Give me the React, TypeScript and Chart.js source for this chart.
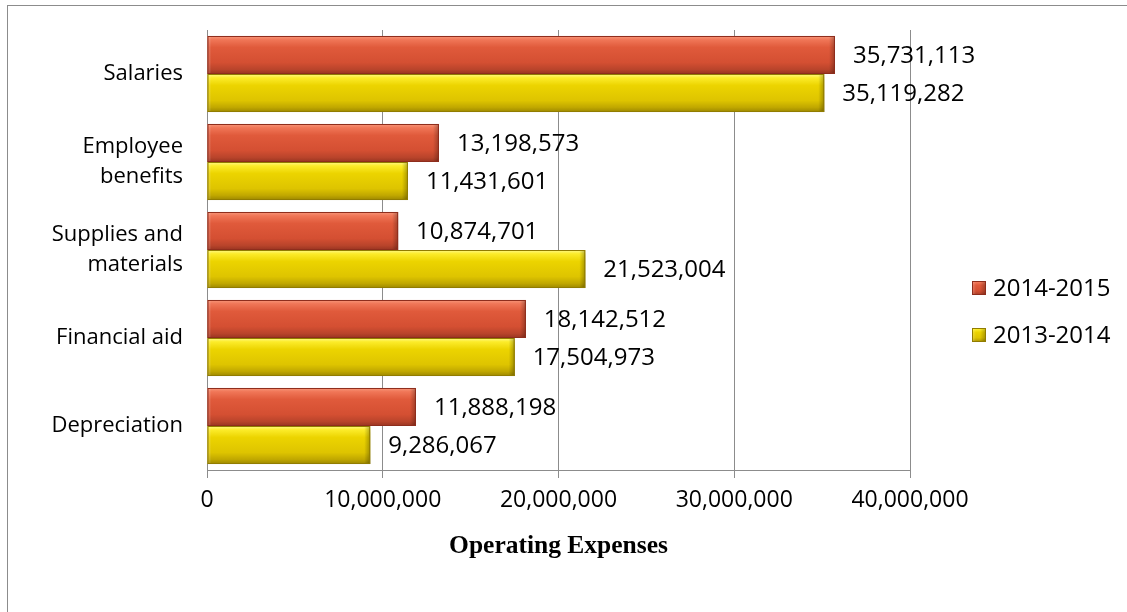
import React, { useEffect, useRef } from 'react';
import { Chart, registerables } from 'chart.js';

Chart.register(...registerables);

const categories: (string | string[])[] = [
  'Salaries',
  ['Employee', 'benefits'],
  ['Supplies and', 'materials'],
  'Financial aid',
  'Depreciation',
];
const seriesLabels = ['2014-2015', '2013-2014'];
const values2014_2015 = [35731113, 13198573, 10874701, 18142512, 11888198];
const values2013_2014 = [35119282, 11431601, 21523004, 17504973, 9286067];
const xMin = 0;
const xMax = 40000000;
const xStep = 10000000;
const axisTitle = 'Operating Expenses';

const SANS = '"Open Sans", "Noto Sans", sans-serif';
const SERIF = '"Liberation Serif", "DejaVu Serif", serif';

const palettes = [
  {
    base: '#dc5436',
    border: '#8e2d1c',
    stops: [
      [0, '#f8987b'],
      [0.1, '#f07657'],
      [0.3, '#e05a3b'],
      [0.7, '#d44f32'],
      [0.88, '#b9442b'],
      [1, '#983421'],
    ],
  },
  {
    base: '#e6cb00',
    border: '#917c00',
    stops: [
      [0, '#fff98c'],
      [0.1, '#fcec2a'],
      [0.3, '#ecd400'],
      [0.7, '#dec400'],
      [0.88, '#c0a700'],
      [1, '#9c8700'],
    ],
  },
];

const fmt = (v: number) => v.toLocaleString('en-US');

function paintBevel(ctx: CanvasRenderingContext2D, left: number, top: number, w: number, h: number, p: any) {
  const g = ctx.createLinearGradient(0, top, 0, top + h);
  p.stops.forEach(([o, c]: any) => g.addColorStop(o, c));
  ctx.fillStyle = g;
  ctx.fillRect(left, top, w, h);
  const bw = Math.min(6, w / 2);
  const gr = ctx.createLinearGradient(left + w - bw, 0, left + w, 0);
  gr.addColorStop(0, 'rgba(0,0,0,0)');
  gr.addColorStop(1, 'rgba(0,0,0,0.28)');
  ctx.fillStyle = gr;
  ctx.fillRect(left + w - bw, top, bw, h);
  const gl = ctx.createLinearGradient(left, 0, left + 4, 0);
  gl.addColorStop(0, 'rgba(255,255,255,0.25)');
  gl.addColorStop(1, 'rgba(255,255,255,0)');
  ctx.fillStyle = gl;
  ctx.fillRect(left, top, Math.min(4, w), h);
  ctx.strokeStyle = p.border;
  ctx.lineWidth = 1;
  ctx.strokeRect(left + 0.5, top + 0.5, w - 1, h - 1);
}

const barStylePlugin = {
  id: 'barStyle',
  beforeDatasetDraw(chart: any) {
    const ctx = chart.ctx;
    ctx.save();
    ctx.shadowColor = 'rgba(0,0,0,0.32)';
    ctx.shadowBlur = 3;
    ctx.shadowOffsetX = 3;
    ctx.shadowOffsetY = 4;
  },
  afterDatasetDraw(chart: any) {
    chart.ctx.restore();
  },
  afterDatasetsDraw(chart: any) {
    const ctx = chart.ctx;
    chart.data.datasets.forEach((ds: any, di: number) => {
      const meta = chart.getDatasetMeta(di);
      const p = palettes[di];
      meta.data.forEach((bar: any) => {
        const { x, y, base, height } = bar.getProps(['x', 'y', 'base', 'height'], true);
        const left = Math.min(x, base);
        const right = Math.max(x, base);
        const top = y - height / 2;
        ctx.save();
        paintBevel(ctx, left, top, right - left, height, p);
        ctx.restore();
      });
    });
    ctx.save();
    ctx.font = `24px ${SANS}`;
    ctx.fillStyle = '#000';
    ctx.textAlign = 'left';
    ctx.textBaseline = 'middle';
    chart.data.datasets.forEach((ds: any, di: number) => {
      const meta = chart.getDatasetMeta(di);
      meta.data.forEach((bar: any, i: number) => {
        const { x, y } = bar.getProps(['x', 'y'], true);
        ctx.fillText(fmt(ds.data[i]), x + 18, y + 1);
      });
    });
    ctx.restore();
  },
};

const legendPlugin = {
  id: 'sideLegend',
  afterDraw(chart: any) {
    const ctx = chart.ctx;
    const boxX = 964;
    const textX = 985;
    const rows = [282, 329];
    ctx.save();
    ctx.font = `24px ${SANS}`;
    ctx.textAlign = 'left';
    ctx.textBaseline = 'middle';
    chart.data.datasets.forEach((ds: any, di: number) => {
      const cy = rows[di];
      ctx.save();
      paintBevel(ctx, boxX, cy - 7, 14, 14, palettes[di]);
      ctx.restore();
      ctx.fillStyle = '#000';
      ctx.fillText(ds.label, textX, cy + 1);
    });
    ctx.restore();
  },
};

export default function App() {
  const canvasRef = useRef<HTMLCanvasElement | null>(null);

  useEffect(() => {
    if (!canvasRef.current) return;
    const chart = new Chart(canvasRef.current, {
      type: 'bar',
      data: {
        labels: categories as any,
        datasets: [
          {
            label: seriesLabels[0],
            data: values2014_2015,
            backgroundColor: palettes[0].base,
            borderColor: palettes[0].border,
            borderWidth: 1,
            categoryPercentage: 0.864,
            barPercentage: 1,
          },
          {
            label: seriesLabels[1],
            data: values2013_2014,
            backgroundColor: palettes[1].base,
            borderColor: palettes[1].border,
            borderWidth: 1,
            categoryPercentage: 0.864,
            barPercentage: 1,
          },
        ],
      },
      options: {
        indexAxis: 'y',
        responsive: false,
        animation: false,
        layout: { padding: { top: 24, right: 217, left: 0, bottom: 50 } },
        plugins: {
          legend: { display: false },
          tooltip: { enabled: false },
        },
        scales: {
          y: {
            type: 'category',
            grid: { display: false, drawTicks: false },
            border: { display: true, color: '#8c8c8c', width: 1 },
            ticks: {
              color: '#000',
              padding: 24,
              font: { family: SANS, size: 22, lineHeight: 1.35 },
            },
            afterFit: (scale: any) => {
              scale.width = 199;
              scale.paddingTop = 0;
              scale.paddingBottom = 0;
            },
          },
          x: {
            type: 'linear',
            min: xMin,
            max: xMax,
            grid: { color: '#8c8c8c', lineWidth: 1, drawTicks: true, tickLength: 8, tickColor: '#8c8c8c' },
            border: { display: true, color: '#8c8c8c', width: 1 },
            ticks: {
              stepSize: xStep,
              color: '#000',
              padding: 9,
              font: { family: SANS, size: 23 },
              callback: (v: any) => fmt(Number(v)),
            },
            title: {
              display: true,
              text: axisTitle,
              color: '#000',
              font: { family: SERIF, size: 25.5, weight: 'bold' },
              padding: { top: 14, bottom: 0 },
            },
            afterFit: (scale: any) => {
              scale.height = 92;
            },
          },
        },
      },
      plugins: [barStylePlugin, legendPlugin],
    } as any);
    return () => chart.destroy();
  }, []);

  return (
    <div
      style={{
        position: 'fixed',
        left: 7,
        top: 5,
        width: 1120,
        height: 607,
        boxSizing: 'border-box',
        borderLeft: '1px solid #8c8c8c',
        borderTop: '1px solid #8c8c8c',
        background: '#fff',
      }}
    >
      <canvas ref={canvasRef} width={1119} height={606} style={{ display: 'block', width: 1119, height: 606 }} />
    </div>
  );
}
